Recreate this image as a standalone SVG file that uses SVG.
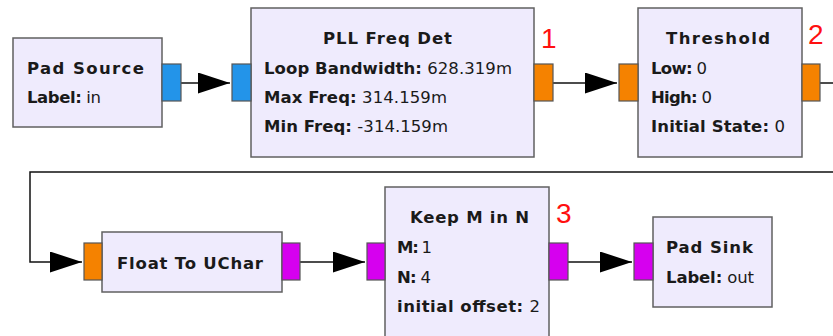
<svg xmlns="http://www.w3.org/2000/svg" width="833" height="336" viewBox="0 0 833 336">
<defs>
<style>
.blk{fill:#EFEBFD;stroke:#606060;stroke-width:1.5}
.port{stroke:#555;stroke-width:1.2}
.blue{fill:#2394E9}
.orange{fill:#F58200}
.mag{fill:#D600EF}
text{font-family:"DejaVu Sans","Liberation Sans",sans-serif;font-size:16.5px;fill:#1a1a1a}
.t{font-weight:bold}
.k{font-weight:bold}
.v{font-weight:normal}
.num{font-family:"Liberation Sans",Arial,sans-serif;font-size:28px;fill:#FF1010}
.wire{fill:none;stroke:#111;stroke-width:1.5}
</style>
<marker id="arr" viewBox="0 0 32 21" refX="32" refY="10.5" markerWidth="32" markerHeight="21" markerUnits="userSpaceOnUse" orient="auto">
<path d="M0,0 L32,10.5 L0,21 Z" fill="#000"/>
</marker>
</defs>
<g id="connectors">
<path class="wire" d="M181,83 H230" marker-end="url(#arr)"/>
<path class="wire" d="M553,83 H617" marker-end="url(#arr)"/>
<path class="wire" d="M820,83 H833"/>
<path class="wire" d="M833,172 H30 V262 H82" marker-end="url(#arr)"/>
<path class="wire" d="M300,262 H365" marker-end="url(#arr)"/>
<path class="wire" d="M568,262 H632" marker-end="url(#arr)"/>
</g>
<g id="pad_source">
<rect class="blk" x="13" y="38" width="149" height="89"/>
<rect class="port blue" x="162" y="64" width="19" height="37"/>
<text class="t" x="27" y="74" textLength="117">Pad Source</text>
<text x="27" y="103" textLength="74"><tspan class="k">Label:</tspan><tspan class="v"> in</tspan></text>
</g>
<g id="pll_freq_det">
<rect class="blk" x="251" y="8" width="283" height="149"/>
<rect class="port blue" x="232" y="64" width="19" height="37"/>
<rect class="port orange" x="534" y="64" width="19" height="37"/>
<text class="t" x="323" y="44" textLength="129">PLL Freq Det</text>
<text x="264" y="74" textLength="248"><tspan class="k">Loop Bandwidth:</tspan><tspan class="v"> 628.319m</tspan></text>
<text x="264" y="103" textLength="183"><tspan class="k">Max Freq:</tspan><tspan class="v"> 314.159m</tspan></text>
<text x="264" y="132" textLength="184"><tspan class="k">Min Freq:</tspan><tspan class="v"> -314.159m</tspan></text>
<text class="num" x="541" y="48">1</text>
</g>
<g id="threshold">
<rect class="blk" x="638" y="8" width="164" height="149"/>
<rect class="port orange" x="619" y="64" width="19" height="37"/>
<rect class="port orange" x="802" y="64" width="18" height="37"/>
<text class="t" x="666" y="44" textLength="104">Threshold</text>
<text x="651" y="74" textLength="56"><tspan class="k">Low:</tspan><tspan class="v"> 0</tspan></text>
<text x="651" y="103" textLength="61"><tspan class="k">High:</tspan><tspan class="v"> 0</tspan></text>
<text x="651" y="132" textLength="134"><tspan class="k">Initial State:</tspan><tspan class="v"> 0</tspan></text>
<text class="num" x="808" y="44">2</text>
</g>
<g id="float_to_uchar">
<rect class="blk" x="102" y="232" width="180" height="60"/>
<rect class="port orange" x="84" y="243" width="18" height="37"/>
<rect class="port mag" x="282" y="243" width="18" height="37"/>
<text class="t" x="117" y="269" textLength="146">Float To UChar</text>
</g>
<g id="keep_m_in_n">
<rect class="blk" x="385" y="187" width="164" height="160"/>
<rect class="port mag" x="367" y="243" width="18" height="37"/>
<rect class="port mag" x="549" y="243" width="19" height="37"/>
<text class="t" x="410" y="223" textLength="119">Keep M in N</text>
<text x="397" y="253" textLength="35"><tspan class="k">M:</tspan><tspan class="v"> 1</tspan></text>
<text x="397" y="283" textLength="34"><tspan class="k">N:</tspan><tspan class="v"> 4</tspan></text>
<text x="397" y="312" textLength="143"><tspan class="k">initial offset:</tspan><tspan class="v"> 2</tspan></text>
<text class="num" x="556" y="223">3</text>
</g>
<g id="pad_sink">
<rect class="blk" x="653" y="217" width="119" height="90"/>
<rect class="port mag" x="634" y="243" width="19" height="37"/>
<text class="t" x="666" y="253" textLength="87">Pad Sink</text>
<text x="666" y="283" textLength="88"><tspan class="k">Label:</tspan><tspan class="v"> out</tspan></text>
</g>
</svg>
